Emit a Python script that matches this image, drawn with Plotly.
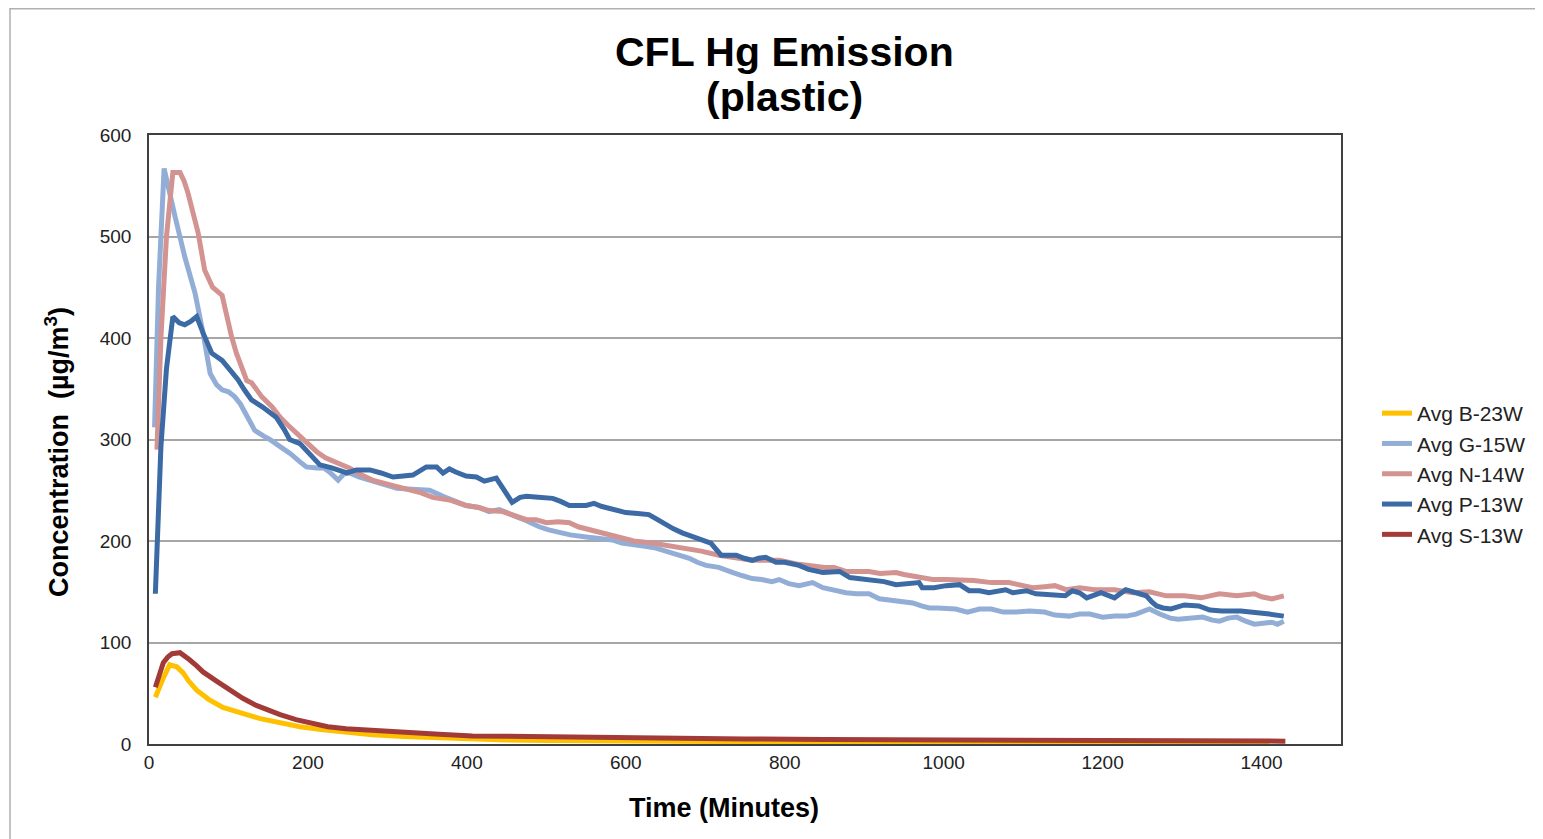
import plotly.graph_objects as go

# ---------------- data ----------------
b_time = [8, 13, 18, 26, 35, 43, 50, 60, 75, 93, 108, 123, 140, 165, 190, 219, 250, 281, 320, 366,
          410, 450, 500, 567, 650, 750, 900, 1050, 1200, 1300, 1410]
b_vals = [46, 56, 65, 78, 76, 70, 62, 53, 44, 36, 32, 29, 25, 21, 17, 14, 11, 9, 7.5, 6,
          5, 4, 3.5, 3, 2.5, 2, 1.5, 1.3, 1.1, 1, 1]

g_time = [7, 12, 19, 25, 33, 45, 58, 68, 77, 85, 92, 100, 108, 115, 121, 127, 133, 145, 152, 165,
          178, 190, 198, 211, 220, 227, 238, 245, 252, 265, 278, 295, 312, 330, 353, 370, 385, 399,
          415, 428, 441, 452, 462, 475, 491, 503, 516, 530, 550, 565, 583, 595, 608, 622, 638, 650,
          663, 672, 680, 690, 701, 717, 726, 734, 746, 759, 771, 784, 793, 805, 818, 835, 848, 862,
          877, 890, 906, 919, 930, 941, 955, 961, 972, 982, 992, 1003, 1015, 1030, 1045, 1060, 1075,
          1091, 1108, 1127, 1140, 1158, 1171, 1184, 1200, 1215, 1230, 1242, 1259, 1272, 1285, 1295,
          1310, 1326, 1338, 1347, 1358, 1369, 1380, 1391, 1402, 1413, 1420, 1428]
g_vals = [312, 450, 567, 545, 519, 480, 444, 405, 365, 354, 349, 347, 342, 335, 326, 316, 309, 303, 300, 293,
          286, 278, 273, 272, 272, 268, 260, 266, 267, 263, 260, 256, 252, 251, 250, 244, 239, 235,
          233, 229, 231, 227, 224, 220, 214, 211, 208, 206, 204, 203, 201, 198, 196, 195, 193, 190,
          186, 185, 183, 179, 176, 174, 172, 169, 166, 163, 162, 160, 162, 158, 156, 159, 154, 151,
          149, 148, 148, 143, 142, 141, 139, 139, 136, 134, 134, 133, 133, 130, 133, 133, 130,
          130, 131, 130, 127, 126, 128, 128, 125, 126, 126, 128, 133, 128, 124, 123,
          124, 125, 122, 121, 124, 125, 121, 118, 119, 120, 118, 121]

n_time = [10, 15, 22, 30, 39, 44, 49, 55, 62, 70, 80, 92, 98, 104, 110, 117, 123, 129, 142, 155,
          165, 175, 186, 198, 211, 222, 236, 252, 265, 281, 300, 319, 340, 357, 380, 399, 415, 428,
          445, 460, 475, 487, 500, 515, 529, 540, 554, 570, 592, 610, 633, 655, 676, 695, 717, 740,
          759, 778, 793, 818, 835, 850, 862, 877, 892, 906, 920, 940, 950, 969, 986, 1003, 1020,
          1038, 1060, 1082, 1100, 1112, 1127, 1140, 1154, 1171, 1190, 1215, 1238, 1259, 1280, 1303,
          1324, 1347, 1369, 1391, 1400, 1413, 1428]
n_vals = [290, 400, 500, 563, 563, 555, 543, 525, 503, 467, 450, 442, 420, 401, 385, 371, 358, 356, 342, 332,
          322, 314, 306, 297, 288, 282, 277, 272, 266, 260, 256, 252, 248, 243, 240, 235, 233, 230,
          229, 225, 221, 221, 218, 219, 218, 214, 211, 208, 204, 200, 198, 195, 193, 190, 186, 183,
          181, 181, 181, 177, 175, 174, 174, 170, 170, 170, 168, 169, 167, 164, 162, 162, 162,
          161, 159, 159, 156, 154, 155, 156, 152, 154, 152, 152, 149, 150, 146, 146,
          144, 148, 146, 148, 145, 143, 146]

p_time = [8, 15, 22, 30, 38, 45, 52, 60, 68, 79, 92, 102, 112, 120, 129, 143, 152, 160, 170, 177,
          190, 200, 208, 215, 230, 249, 261, 278, 292, 307, 320, 332, 349, 362, 370, 378, 386, 399,
          412, 422, 437, 447, 457, 467, 475, 490, 508, 518, 529, 550, 560, 570, 579, 590, 600, 615,
          629, 640, 650, 660, 671, 682, 692, 707, 720, 730, 739, 749, 759, 767, 776, 789, 800, 818,
          830, 848, 859, 869, 882, 895, 910, 925, 940, 955, 969, 973, 988, 1003, 1020, 1032, 1045,
          1057, 1070, 1078, 1087, 1104, 1116, 1129, 1140, 1153, 1162, 1171, 1180, 1198, 1215, 1229,
          1242, 1255, 1262, 1268, 1276, 1286, 1303, 1321, 1335, 1350, 1374, 1391, 1410, 1428]
p_vals = [148, 293, 370, 421, 415, 413, 416, 421, 405, 385, 378, 368, 359, 349, 339, 332, 326, 322, 310, 300,
          296, 288, 280, 275, 272, 267, 270, 270, 267, 263, 264, 265, 273, 273, 267, 271, 268, 264,
          263, 259, 262, 250, 238, 243, 244, 243, 242, 239, 235, 235, 237, 234, 232, 230, 228, 227,
          226, 221, 216, 212, 208, 205, 201, 198, 186, 186, 186, 183, 181, 183, 184, 179, 179, 176,
          172, 169, 169, 170, 164, 163, 162, 160, 157, 158, 159, 154, 154, 156, 157, 151, 151,
          149, 151, 152, 149, 151, 148, 147, 147, 146, 151, 149, 144, 149, 144, 152,
          149, 146, 140, 136, 134, 133, 137, 136, 132, 131, 131, 130, 128, 126]

s_time = [8, 13, 18, 24, 29, 39, 45, 51, 60, 68, 85, 102, 118, 135, 150, 165, 185, 206, 225, 248,
          285, 324, 365, 407, 450, 491, 535, 575, 650, 750, 850, 950, 1050, 1150, 1250, 1350, 1430]
s_vals = [56, 70, 80, 86, 89, 90, 87, 83, 77, 71, 62, 53, 45, 38, 33, 29, 24, 20, 17, 15,
          13, 11, 9.5, 8, 7.5, 7, 6.5, 6, 5.5, 5, 4.5, 4, 3.8, 3.5, 3.2, 3, 2.8]

series_names = ["Avg B-23W", "Avg G-15W", "Avg N-14W", "Avg P-13W", "Avg S-13W"]
x_tick_vals = [0, 200, 400, 600, 800, 1000, 1200, 1400]
y_tick_vals = [0, 100, 200, 300, 400, 500, 600]

colors = ["#FFC000", "#93AED6", "#D39390", "#3C6AA5", "#A23B37"]

fig = go.Figure()
for name, xs, ys, c in zip(series_names,
                           [b_time, g_time, n_time, p_time, s_time],
                           [b_vals, g_vals, n_vals, p_vals, s_vals],
                           colors):
    fig.add_trace(go.Scatter(x=xs, y=ys, mode="lines", name=name,
                             line=dict(color=c, width=5)))

# page is offset by the default 8px body margin
OFF = 8
W, H = 1543 - OFF, 839 - OFF
L, R, T, B = 149 - OFF, 1341 - OFF, 135 - OFF, 744 - OFF
pw, ph = R - L, B - T

def px_x(px):  # px in page coords
    return (px - OFF - L) / pw

def px_y(py):
    return (B - (py - OFF)) / ph

fig.update_layout(
    width=W, height=H,
    margin=dict(l=L, r=W - R, t=T, b=H - B, autoexpand=False),
    paper_bgcolor="white", plot_bgcolor="white",
    font=dict(family="Liberation Sans, Arial, sans-serif", color="#222222", size=19),
    showlegend=True,
    legend=dict(x=px_x(1377), y=px_y(393), xanchor="left", yanchor="top",
                font=dict(size=21, color="#222222"), bgcolor="rgba(0,0,0,0)",
                tracegroupgap=0, itemwidth=30),
    xaxis=dict(range=[0, 1500], tickvals=x_tick_vals, showgrid=False, zeroline=False,
               showline=True, linecolor="#404040", linewidth=1.5, mirror=True,
               ticks="", tickfont=dict(size=19, color="#222222")),
    yaxis=dict(range=[0, 600], tickvals=y_tick_vals, showgrid=True, gridcolor="#A6A6A6",
               gridwidth=1.5, zeroline=False, showline=True, linecolor="#404040",
               linewidth=1.5, mirror=True, ticks="", ticklabelstandoff=12,
               tickfont=dict(size=19, color="#222222")),
    annotations=[
        dict(text="<b>CFL Hg Emission</b>", xref="paper", yref="paper",
             x=px_x(785), y=px_y(52), xanchor="center", yanchor="middle", showarrow=False,
             font=dict(size=41, color="#000000")),
        dict(text="<b>(plastic)</b>", xref="paper", yref="paper",
             x=px_x(785), y=px_y(97), xanchor="center", yanchor="middle", showarrow=False,
             font=dict(size=41, color="#000000")),
        dict(text="<b>Time (Minutes)</b>", xref="paper", yref="paper",
             x=px_x(724), y=px_y(808), xanchor="center", yanchor="middle", showarrow=False,
             font=dict(size=27, color="#000000")),
        dict(text="<b>Concentration  (µg/m<sup>3</sup>)</b>", xref="paper", yref="paper",
             x=px_x(57), y=px_y(452), xanchor="center", yanchor="middle", showarrow=False,
             textangle=-90, font=dict(size=27, color="#000000")),
    ],
    shapes=[
        dict(type="rect", xref="paper", yref="paper",
             x0=px_x(10), x1=px_x(1536), y0=px_y(860), y1=px_y(8.8),
             line=dict(color="#B0B0B0", width=1.5), fillcolor="rgba(0,0,0,0)", layer="below"),
    ],
)

fig.write_html("out.html")
